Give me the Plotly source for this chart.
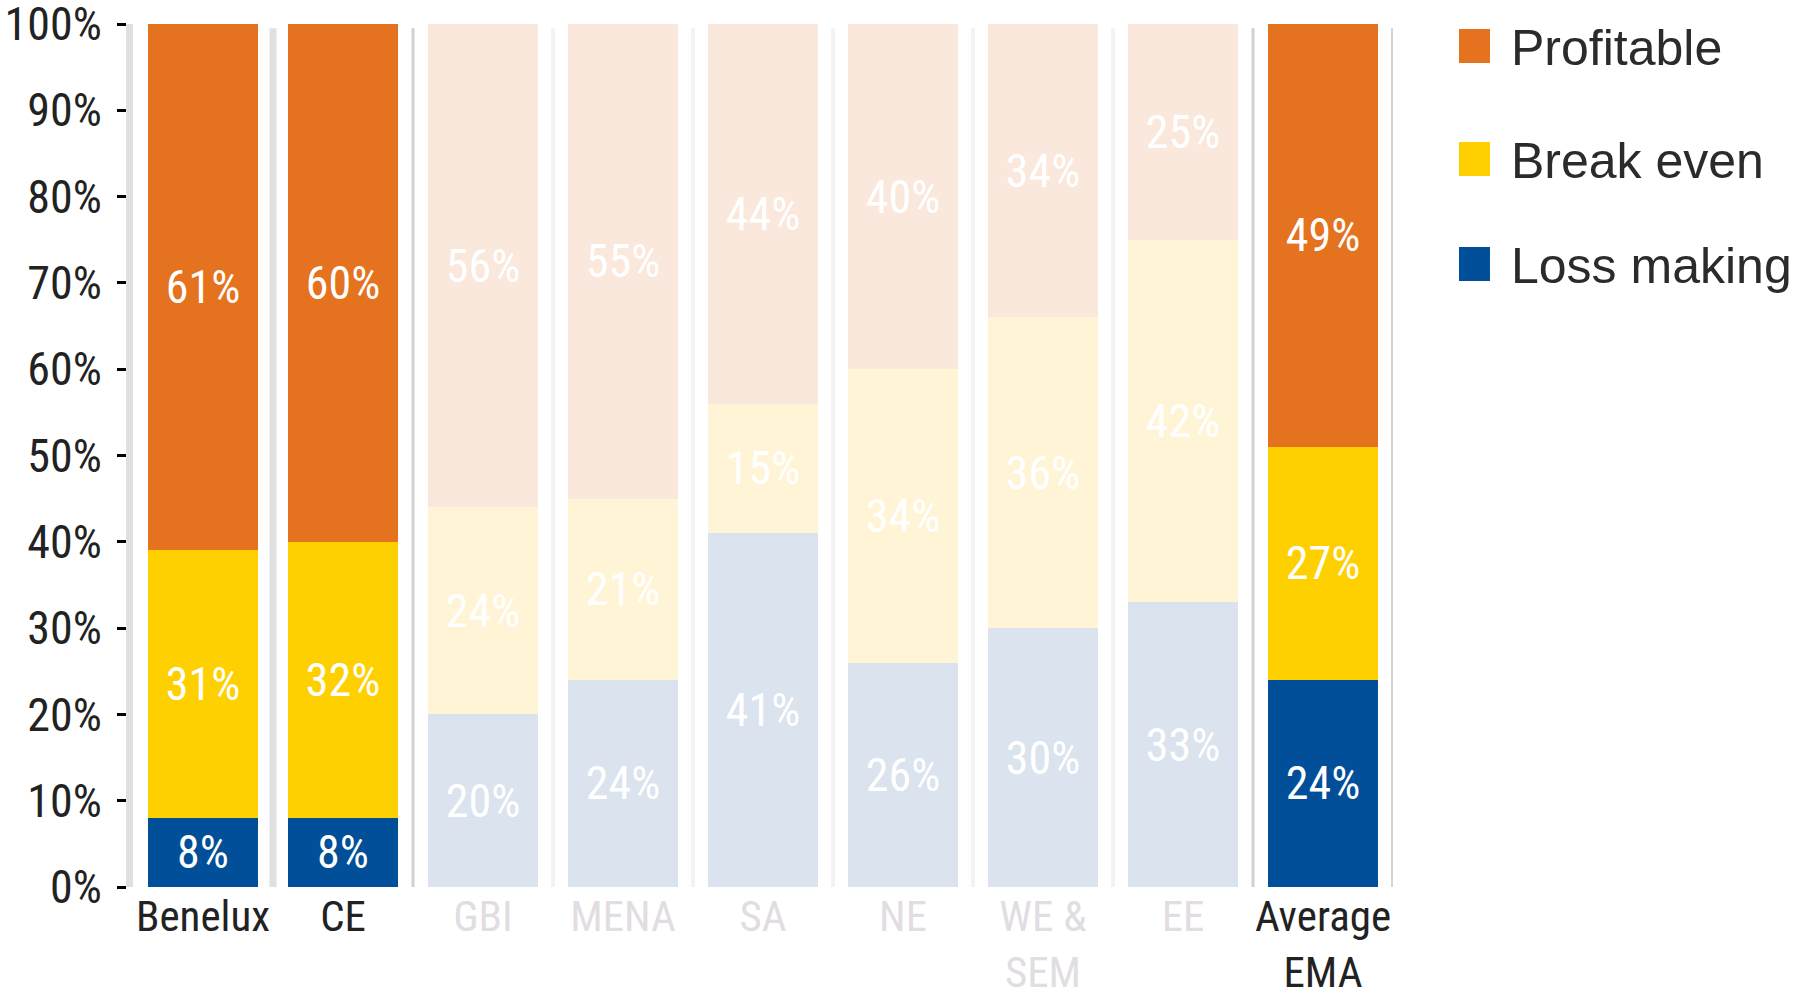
import plotly.graph_objects as go

# ---- data ----
categories = ["Benelux", "CE", "GBI", "MENA", "SA", "NE", "WE & SEM", "EE", "Average EMA"]
tick_labels = ["Benelux", "CE", "GBI", "MENA", "SA", "NE", "WE &<br>SEM", "EE", "Average<br>EMA"]
highlighted = [True, True, False, False, False, False, False, False, True]

loss_making = [8, 8, 20, 24, 41, 26, 30, 33, 24]
break_even = [31, 32, 24, 21, 15, 34, 36, 42, 27]
profitable = [61, 60, 56, 55, 44, 40, 34, 25, 49]

y_ticks = [0, 10, 20, 30, 40, 50, 60, 70, 80, 90, 100]
y_tick_labels = [f"{v}%" for v in y_ticks]

series_names = ["Loss making", "Break even", "Profitable"]
series_values = [loss_making, break_even, profitable]
full_colors = ["#004F98", "#FFD000", "#E5721E"]
faded_colors = ["#DBE3EE", "#FFF5D6", "#FAE8DC"]

NARROW = "Roboto Condensed, Noto Sans Condensed, DejaVu Sans Condensed, sans-serif"
REGULAR = "Liberation Sans, Arial, sans-serif"

fig = go.Figure()
for name, vals, fc, lc in zip(series_names, series_values, full_colors, faded_colors):
    colors = [fc if h else lc for h in highlighted]
    fig.add_trace(go.Bar(
        x=categories, y=vals, name=name,
        marker=dict(color=colors, line=dict(width=0)),
        text=[f"{v}%" for v in vals],
        textposition="inside", insidetextanchor="middle",
        constraintext="none",
        textfont=dict(family=NARROW, size=46, color="white"),
        showlegend=False, hoverinfo="skip",
    ))

# separators between categories
sep_styles = {0.5: ("#e0e0e0", 7), 1.5: ("#d2d2d2", 3), 7.5: ("#d2d2d2", 3), 8.5: ("#d4d4d4", 4)}
for i in range(len(categories)):
    b = i + 0.5
    col, w = sep_styles.get(b, ("#f3f3f3", 4))
    fig.add_shape(type="line", xref="x", yref="paper", x0=b, x1=b, y0=0, y1=0.995,
                  line=dict(color=col, width=w), layer="below")

# x tick labels (highlighted dark, others faded)
styled_ticks = [
    (f'<span style="color:#222222">{t}</span>' if h else f'<span style="color:#e2dde3">{t}</span>')
    for t, h in zip(tick_labels, highlighted)
]

# manual legend (large squares)
PLOT_L, PLOT_R, PLOT_T, PLOT_B = 133, 406, 24, 100
W, H = 1799, 987
pw, ph = W - PLOT_L - PLOT_R, H - PLOT_T - PLOT_B
def px_x(x):
    return (x - PLOT_L) / pw
def px_y(y):
    return (H - PLOT_B - y) / ph

legend_order = ["Profitable", "Break even", "Loss making"]
legend_rows = [46, 159, 264]
for name, cy in zip(legend_order, legend_rows):
    col = full_colors[series_names.index(name)]
    fig.add_shape(type="rect", xref="paper", yref="paper",
                  x0=px_x(1459), x1=px_x(1490), y0=px_y(cy + 17), y1=px_y(cy - 17),
                  fillcolor=col, line=dict(width=0))
    fig.add_annotation(xref="paper", yref="paper", x=px_x(1509), y=px_y(cy + 2),
                       xanchor="left", yanchor="middle", text=name, showarrow=False,
                       font=dict(family=REGULAR, size=50, color="#2b2b2b"))

fig.update_layout(
    template="none",
    barmode="stack", bargap=0.214,
    width=W, height=H,
    margin=dict(l=PLOT_L, r=PLOT_R, t=PLOT_T, b=PLOT_B, pad=0, autoexpand=False),
    plot_bgcolor="white", paper_bgcolor="white",
    showlegend=False,
)
fig.update_xaxes(
    type="category", tickvals=categories, ticktext=styled_ticks,
    showline=False, showgrid=False, zeroline=False, ticks="",
    tickfont=dict(family=NARROW, size=43, color="#222222"),
    range=[-0.5, len(categories) - 0.5],
    ticklabelstandoff=0, automargin=False, ticklabeloverflow="allow",
)
fig.update_yaxes(
    range=[0, 100], tickvals=y_ticks, ticktext=y_tick_labels,
    showline=True, linecolor="#e0e0e0", linewidth=7,
    ticks="outside", ticklen=9, tickwidth=3, tickcolor="#000000",
    showgrid=False, zeroline=False,
    tickfont=dict(family=NARROW, size=46, color="#222222"),
    ticklabelstandoff=6, automargin=False, ticklabeloverflow="allow",
)

fig.write_html("out.html", config={"displayModeBar": False},
               post_script="document.body.style.margin='0';document.body.style.overflow='hidden';")
